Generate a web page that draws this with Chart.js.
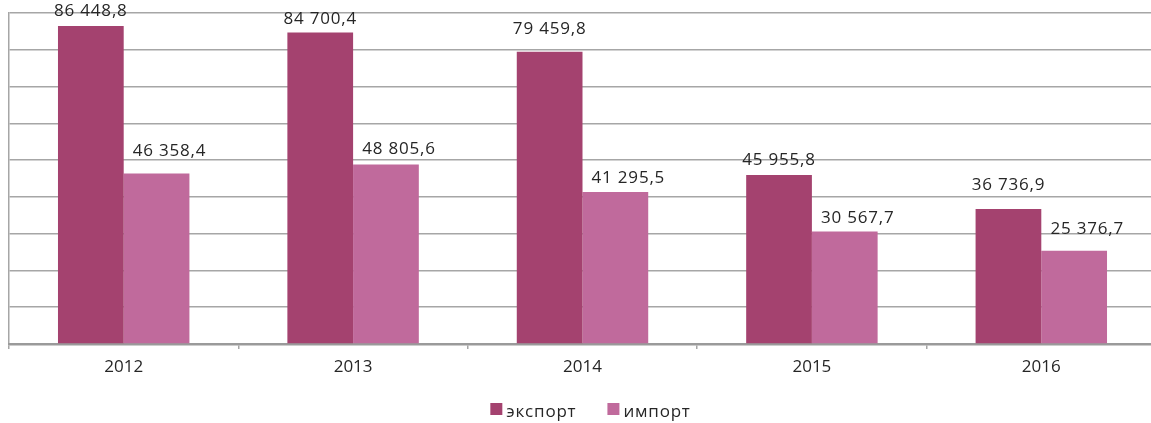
<!DOCTYPE html>
<html>
<head>
<meta charset="utf-8">
<script src="https://cdn.jsdelivr.net/npm/chart.js@4"></script>
<style>
  html, body { margin: 0; padding: 0; background: #fff; overflow: hidden; }
  #wrap { width: 1156px; height: 423px; }
</style>
</head>
<body>
<div id="wrap"><canvas id="chart"></canvas></div>
<script>
// данные
const years = ['2012', '2013', '2014', '2015', '2016'];
const exportValues = [86448.8, 84700.4, 79459.8, 45955.8, 36736.9];
const importValues = [46358.4, 48805.6, 41295.5, 30567.7, 25376.7];
const seriesNames = ['экспорт', 'импорт'];

// смещения подписей (px): вверх от столбца и вправо
const liftExport = [15, 13, 23, 15, 24];
const liftImport = [22, 15, 14, 13, 22];
const shiftX = [0, 13];

const FONT = '17px "Open Sans", sans-serif';
const TEXT_COLOR = '#262626';

// 86448.8 -> "86 448,8"
function fmt(v) {
    const parts = v.toFixed(1).split('.');
    const intPart = parts[0].replace(/\B(?=(\d{3})+(?!\d))/g, ' ');
    return intPart + ',' + parts[1];
}

// подписи значений над столбцами
const valueLabels = {
    id: 'valueLabels',
    afterDatasetsDraw(chart) {
        const ctx = chart.ctx;
        const lifts = [liftExport, liftImport];
        ctx.save();
        ctx.font = FONT;
        ctx.letterSpacing = '0.8px';
        ctx.fillStyle = TEXT_COLOR;
        ctx.textAlign = 'center';
        ctx.textBaseline = 'middle';
        chart.data.datasets.forEach((ds, i) => {
            chart.getDatasetMeta(i).data.forEach((bar, j) => {
                ctx.fillText(fmt(ds.data[j]), bar.x + shiftX[i], bar.y - lifts[i][j]);
            });
        });
        ctx.restore();
    }
};

// легенда внизу: квадрат + подпись
const bottomLegend = {
    id: 'bottomLegend',
    afterDraw(chart) {
        const ctx = chart.ctx;
        const box = 12, gap = 4, spacing = 31;
        ctx.save();
        ctx.font = FONT;
        ctx.letterSpacing = '0.8px';
        const items = chart.data.datasets.map(ds => ({
            text: ds.label,
            color: ds.backgroundColor,
            w: ctx.measureText(ds.label).width
        }));
        let total = 0;
        items.forEach((it, i) => { total += box + gap + it.w + (i ? spacing : 0); });
        const cx = (chart.chartArea.left + chart.chartArea.right) / 2 + 8;
        let x = cx - total / 2;
        const baseY = 417;
        ctx.textBaseline = 'alphabetic';
        ctx.textAlign = 'left';
        items.forEach(it => {
            ctx.fillStyle = it.color;
            ctx.fillRect(x, 403, box, box);
            x += box + gap;
            ctx.fillStyle = TEXT_COLOR;
            ctx.fillText(it.text, x, baseY);
            x += it.w + spacing;
        });
        ctx.restore();
    }
};

new Chart(document.getElementById('chart'), {
    type: 'bar',
    data: {
        labels: years,
        datasets: [
            { label: seriesNames[0], data: exportValues, backgroundColor: '#a4426f' },
            { label: seriesNames[1], data: importValues, backgroundColor: '#c06a9c' }
        ]
    },
    options: {
        responsive: true,
        maintainAspectRatio: false,
        animation: false,
        categoryPercentage: 0.573,
        barPercentage: 1,
        layout: { padding: { left: 9, top: 13, right: 0, bottom: 37 } },
        plugins: {
            tooltip: { enabled: false },
            legend: { display: false }
        },
        scales: {
            y: {
                min: 0,
                max: 90000,
                ticks: { display: false, stepSize: 10000 },
                grid: { color: '#a6a6a6', lineWidth: 1.5, drawTicks: false },
                border: { color: '#a6a6a6', width: 1.5 }
            },
            x: {
                offset: true,
                ticks: {
                    color: TEXT_COLOR,
                    font: { family: '"Open Sans", sans-serif', size: 17, lineHeight: 1 },
                    padding: 10
                },
                grid: { drawOnChartArea: false, drawTicks: true, tickLength: 5, color: '#a6a6a6', lineWidth: 1.5 },
                border: { color: '#9a9a9a', width: 2.5 }
            }
        }
    },
    plugins: [valueLabels, bottomLegend]
});
</script>
</body>
</html>
